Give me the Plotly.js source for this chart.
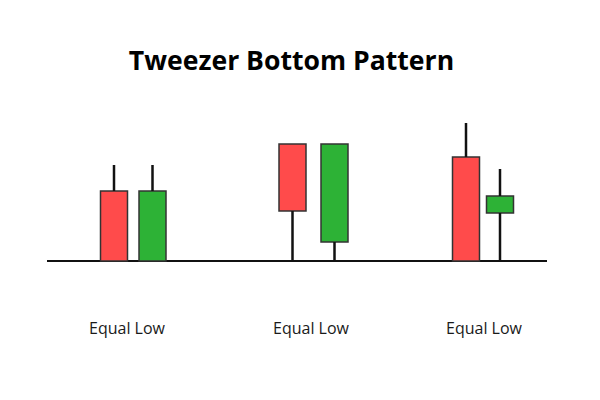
<!DOCTYPE html>
<html>
<head>
<meta charset="utf-8">
<script src="https://cdn.plot.ly/plotly-3.0.1.min.js"></script>
<style>html,body{margin:0;padding:0;background:#fff;}#chart{width:600px;height:400px;}</style>
</head>
<body>
<div id="chart"></div>
<script>
// Candle positions (x units) and OHLC values (y units, 0 = common low line)
const candleX = [67, 105.5, 245.5, 287.5, 419, 453];
const openV   = [70, 0, 117, 19, 104, 48];
const closeV  = [0, 70, 50, 117, 0, 65];
const highV   = [96, 96, 117, 117, 138, 92];
const lowV    = [0, 0, 0, 0, 0, 0];
const bodyColors = ['#FF4B4B', '#2DB236', '#FF4B4B', '#2DB236', '#FF4B4B', '#2DB236'];
const labelX = [80.5, 264, 437];
const labelText = ['Equal Low', 'Equal Low', 'Equal Low'];
const labelY = -67;

const bodyW = 27;

// wick segments (split so they don't cross the bodies)
const wx = [], wy = [];
for (let i = 0; i < candleX.length; i++) {
  const top = Math.max(openV[i], closeV[i]);
  const bot = Math.min(openV[i], closeV[i]);
  if (highV[i] > top) { wx.push(candleX[i], candleX[i], null); wy.push(top, highV[i], null); }
  if (lowV[i] < bot) { wx.push(candleX[i], candleX[i], null); wy.push(lowV[i], bot, null); }
}

const wicks = {
  type: 'scatter', mode: 'lines', x: wx, y: wy,
  line: {color: '#111', width: 2.5}, hoverinfo: 'skip', showlegend: false
};

const bodies = {
  type: 'bar',
  x: candleX,
  y: candleX.map((_, i) => Math.abs(closeV[i] - openV[i])),
  base: candleX.map((_, i) => Math.min(openV[i], closeV[i])),
  width: candleX.map(() => bodyW),
  marker: {color: bodyColors, line: {color: '#333', width: 1.5}},
  showlegend: false, hoverinfo: 'skip'
};

const layout = {
  width: 600, height: 400,
  paper_bgcolor: '#fff', plot_bgcolor: '#fff',
  margin: {l: 47, r: 53, t: 0, b: 0, pad: 0},
  showlegend: false,
  barmode: 'overlay',
  title: {
    text: '<b>Tweezer Bottom Pattern</b>',
    font: {family: 'Open Sans', size: 26.6, color: '#000'},
    x: 291.5 / 600, xref: 'container', xanchor: 'center',
    y: 1 - 61 / 400, yref: 'container', yanchor: 'middle'
  },
  xaxis: {range: [0, 500], visible: false, fixedrange: true},
  yaxis: {
    range: [-139, 261], showgrid: false, showticklabels: false, ticks: '',
    showline: false, zeroline: true, zerolinecolor: '#111', zerolinewidth: 2.5, fixedrange: true
  },
  annotations: labelX.map((x, i) => ({
    x: x, y: labelY, xref: 'x', yref: 'y', text: labelText[i], showarrow: false,
    font: {family: 'Open Sans', size: 16, color: '#1a1a1a'}, xanchor: 'center', yanchor: 'middle'
  }))
};

Plotly.newPlot('chart', [bodies, wicks], layout, {displayModeBar: false, staticPlot: true});
</script>
</body>
</html>
